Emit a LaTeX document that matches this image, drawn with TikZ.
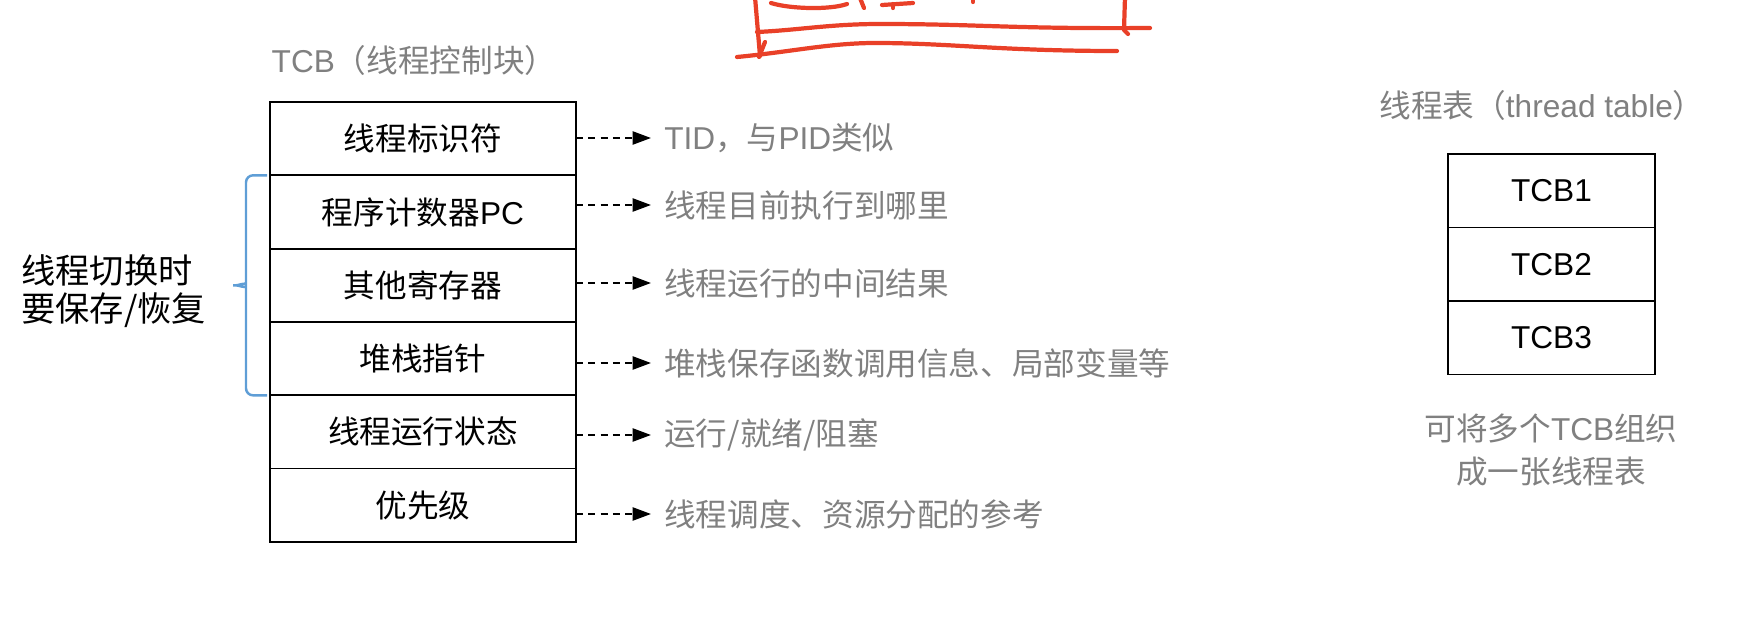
\documentclass[tikz,border=0pt]{standalone}
\usepackage{fontspec}
\setmainfont{Noto Sans CJK SC}
\newfontfamily\hel{Liberation Sans}
\usetikzlibrary{arrows.meta, positioning}
\definecolor{notegray}{RGB}{128,128,128}
\definecolor{bracketblue}{RGB}{95,158,214}
\definecolor{penred}{RGB}{233,64,40}

\begin{document}
\begin{tikzpicture}[x=0.02cm, y=-0.02cm,
    field/.style={rectangle, draw=black, line width=1pt, outer sep=0pt, minimum width=6.12cm,
                  minimum height=1.4667cm, inner sep=0pt, font=\fontsize{18}{21}\selectfont},
    tcbrow/.style={field, minimum width=4.14cm, minimum height=1.47cm},
    note/.style={anchor=west, inner xsep=7.4pt, inner ysep=0pt, text=notegray,
                 font=\fontsize{18}{21}\selectfont},
    noteline/.style={line width=1.1pt, dash pattern=on 4pt off 3pt,
                     -{Triangle[length=10.5pt,width=7.5pt]}},
    brace/.style={bracketblue, line width=1.4pt, rounded corners=4pt},
    pen/.style={penred, line width=2.4pt, line cap=round, line join=round}]

    \useasboundingbox (0,0) rectangle (1750,632);

    % Red pen marks at the top
    \draw[pen] (755,-3) -- (760,56);
    \draw[pen] (765,42) -- (759,57);
    \draw[pen] (757,32) .. controls (800,30) and (830,24) .. (880,24)
               .. controls (980,24) and (1010,29) .. (1150,28);
    \draw[pen] (737,57) .. controls (790,52) and (830,43) .. (875,43)
               .. controls (950,43) and (1000,51) .. (1117,51);
    \draw[pen] (1125,-3) -- (1124,30) -- (1128,34);
    \draw[pen] (771,3) .. controls (790,9) and (830,10) .. (847,4);
    \draw[pen] (860,-2) -- (864,8);
    \draw[pen] (882,5) -- (913,3);
    \draw[pen] (893,4) -- (893,8);
    \draw[pen] (973,-2) -- (973,2);

    % Title
    \node[text=notegray, font=\fontsize{18}{21}\selectfont] (tcbtitle) at (414,60)
        {{\hel TCB}（线程控制块）};

    % TCB fields
    \node[field, anchor=north west] (f1) at (270,102) {线程标识符};
    \node[field, below=0pt of f1] (f2) {程序计数器{\hel PC}};
    \node[field, below=0pt of f2] (f3) {其他寄存器};
    \node[field, below=0pt of f3] (f4) {堆栈指针};
    \node[field, below=0pt of f4] (f5) {线程运行状态};
    \node[field, below=0pt of f5] (f6) {优先级};

    % Notes
    \node[note] (n1) at (651,138) {{\hel TID}，与{\hel PID}类似};
    \node[note] (n2) at (651,205) {线程目前执行到哪里};
    \node[note] (n3) at (651,283) {线程运行的中间结果};
    \node[note] (n4) at (651,363) {堆栈保存函数调用信息、局部变量等};
    \node[note] (n5) at (651,435) {运行/就绪/阻塞};
    \node[note] (n6) at (651,514) {线程调度、资源分配的参考};
    \foreach \i in {1,...,6}
        \draw[noteline] (f1.east |- n\i.west) -- (n\i.west);

    % Saved on switch
    \draw[brace] ([xshift=-0.06cm]f2.north west) -- ++(-21,0) -- ++(0,102)
        .. controls ++(0,5) and ++(9,0) .. ++(-17,8)
        .. controls ++(9,0) and ++(0,-5) .. ++(17,8)
        -- ++(0,102) -- ++(21,0);
    \node[anchor=west, align=left, inner sep=0pt, font=\fontsize{19.5}{21.8}\selectfont]
        (savelabel) at (21,291) {线程切换时\\要保存/恢复};

    % Thread table
    \node[text=notegray, font=\fontsize{18}{21}\selectfont] (tabletitle) at (1542,105)
        {线程表（{\hel thread table}）};
    \node[tcbrow, anchor=north west] (t1) at (1448,154) {{\hel TCB1}};
    \node[tcbrow, below=0pt of t1] (t2) {{\hel TCB2}};
    \node[tcbrow, below=0pt of t2] (t3) {{\hel TCB3}};
    \node[text=notegray, align=center, font=\fontsize{18}{24.5}\selectfont]
        (tablenote) at (1551,450) {可将多个{\hel TCB}组织\\成一张线程表};
\end{tikzpicture}
\end{document}
